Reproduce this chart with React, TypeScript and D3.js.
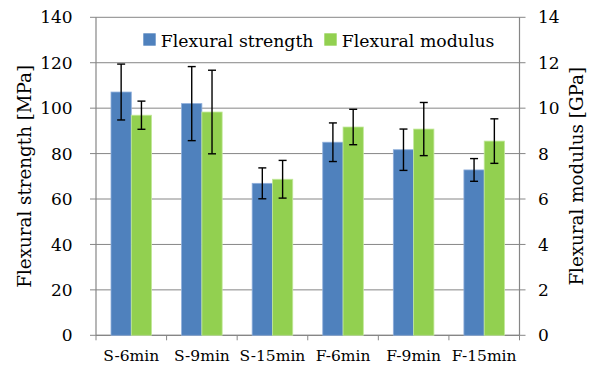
import React from "react";
import * as d3 from "d3";

const categories = ["S-6min", "S-9min", "S-15min", "F-6min", "F-9min", "F-15min"];
const strength = [107.1, 102.0, 66.9, 85.0, 81.7, 72.8];
const strengthErr = [12.3, 16.3, 6.8, 8.5, 9.1, 5.0];
const modulus = [9.69, 9.83, 6.87, 9.17, 9.08, 8.55];
const modulusErr = [0.62, 1.84, 0.83, 0.78, 1.17, 0.98];
const leftTicks = [0, 20, 40, 60, 80, 100, 120, 140];
const rightTicks = [0, 2, 4, 6, 8, 10, 12, 14];

const W = 593;
const H = 365;
const FONT = "'DejaVu Serif', serif";
const BLUE = "#4F81BD";
const GREEN = "#92D050";
const GRID = "#868686";

export default function App() {
  const left = 96;
  const right = 519.5;
  const top = 17.3;
  const bottom = 335.3;

  const x = d3
    .scaleBand<string>()
    .domain(categories)
    .range([left, right])
    .paddingInner(0.425)
    .paddingOuter(0.2125);
  const sub = d3.scaleBand<number>().domain([0, 1]).range([0, x.bandwidth()]);
  const yL = d3.scaleLinear().domain([0, 140]).range([bottom, top]);
  const yR = d3.scaleLinear().domain([0, 14]).range([bottom, top]);

  const step = x.step();
  const boundaries = d3.range(categories.length + 1).map((i) => left + i * step);
  const cap = 4;

  const errBar = (cx: number, lo: number, hi: number, key: string) => (
    <g key={key} stroke="#000" strokeWidth={1.4}>
      <line x1={cx} x2={cx} y1={lo} y2={hi} />
      <line x1={cx - cap} x2={cx + cap} y1={lo} y2={lo} />
      <line x1={cx - cap} x2={cx + cap} y1={hi} y2={hi} />
    </g>
  );

  return (
    <svg width={W} height={H} style={{ position: "absolute", left: 0, top: 0 }} fontFamily={FONT}>
      <rect width={W} height={H} fill="#fff" />
      {/* gridlines with tick stubs on both sides */}
      {leftTicks.map((t) => (
        <line key={"g" + t} x1={left - 6} x2={right + 6} y1={yL(t)} y2={yL(t)} stroke={GRID} strokeWidth={1} />
      ))}
      {/* axes */}
      <line x1={left} x2={left} y1={top} y2={bottom} stroke={GRID} strokeWidth={1.2} />
      <line x1={right} x2={right} y1={top} y2={bottom} stroke={GRID} strokeWidth={1.2} />
      <line x1={left} x2={right} y1={bottom} y2={bottom} stroke={GRID} strokeWidth={1.2} />
      {boundaries.map((b, i) => (
        <line key={"xt" + i} x1={b} x2={b} y1={bottom} y2={bottom + 5} stroke={GRID} strokeWidth={1} />
      ))}
      {/* bars */}
      {categories.map((c, i) => {
        const x0 = x(c)!;
        const bw = sub.bandwidth();
        return (
          <g key={c}>
            <rect x={x0 + sub(0)!} y={yL(strength[i])} width={bw} height={bottom - yL(strength[i])} fill={BLUE} stroke="#8eaedb" strokeWidth={0.8} />
            <rect x={x0 + sub(1)!} y={yR(modulus[i])} width={bw} height={bottom - yR(modulus[i])} fill={GREEN} stroke="#c3e89b" strokeWidth={0.8} />
          </g>
        );
      })}
      {/* error bars */}
      {categories.map((c, i) => {
        const x0 = x(c)!;
        const bw = sub.bandwidth();
        return (
          <g key={"e" + c}>
            {errBar(x0 + sub(0)! + bw / 2, yL(strength[i] - strengthErr[i]), yL(strength[i] + strengthErr[i]), "s")}
            {errBar(x0 + sub(1)! + bw / 2, yR(modulus[i] - modulusErr[i]), yR(modulus[i] + modulusErr[i]), "m")}
          </g>
        );
      })}
      {/* left tick labels */}
      {leftTicks.map((t) => (
        <text key={"lt" + t} x={72.7} y={yL(t)} dy="0.36em" textAnchor="end" fontSize={17} fill="#000">
          {t}
        </text>
      ))}
      {/* right tick labels */}
      {rightTicks.map((t) => (
        <text key={"rt" + t} x={538} y={yR(t)} dy="0.36em" textAnchor="start" fontSize={17} fill="#000">
          {t}
        </text>
      ))}
      {/* category labels */}
      {categories.map((c) => (
        <text key={"cl" + c} x={x(c)! + x.bandwidth() / 2} y={361} textAnchor="middle" fontSize={15.5} fill="#000">
          {c}
        </text>
      ))}
      {/* axis titles */}
      <text transform={`translate(24,${(top + bottom) / 2}) rotate(-90)`} dy="0.36em" textAnchor="middle" fontSize={18.3} fill="#000">
        Flexural strength [MPa]
      </text>
      <text transform={`translate(576,${(top + bottom) / 2}) rotate(-90)`} dy="0.36em" textAnchor="middle" fontSize={18.3} fill="#000">
        Flexural modulus [GPa]
      </text>
      {/* legend */}
      <rect x={143.3} y={33.3} width={12.4} height={12.4} fill={BLUE} />
      <text x={160.7} y={46.5} fontSize={17.3} fill="#000">Flexural strength</text>
      <rect x={324.3} y={33.3} width={12.4} height={12.4} fill={GREEN} />
      <text x={341.7} y={46.5} fontSize={17.3} fill="#000">Flexural modulus</text>
    </svg>
  );
}
